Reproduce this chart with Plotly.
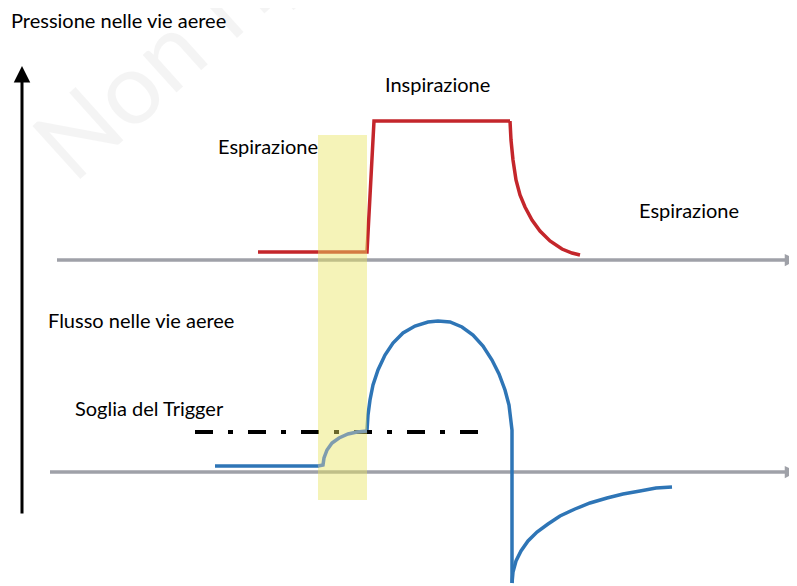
import plotly.graph_objects as go

# pixel-like schematic coordinates (x to the right, y downward)
press_x = [258, 367, 374, 510]
press_y = [252, 252, 121, 121]
decay_x = [510, 511, 513, 516, 520, 525, 532, 540, 550, 562, 572, 580]
decay_y = [121, 140, 160, 180, 195, 207, 220, 231, 241, 249, 253, 255]

flow_base_x = [215, 319]
flow_base_y = [466, 466]

trig_x = [318, 323, 324, 327, 332, 339, 348, 357, 367]
trig_y = [466, 465, 458, 450, 443, 438, 434, 432, 431]

insp_x = [367, 368, 370, 373, 378, 385, 393, 403, 415, 428, 438, 450, 462, 473, 483, 492, 499, 505, 509, 511, 512, 512]
insp_y = [431, 415, 400, 385, 370, 355, 343, 333, 326, 322, 321, 322, 327, 335, 346, 360, 374, 390, 405, 418, 430, 583]

esp_x = [512, 513, 516, 521, 528, 537, 548, 560, 575, 590, 607, 623, 640, 656, 672]
esp_y = [583, 572, 561, 551, 541, 532, 524, 516, 509, 503, 498, 494, 491, 488, 487]

soglia_x = [195, 478]
soglia_y = [432, 432]

# assi orizzontali (inizio, fine, quota)
assi = [(57, 790, 260), (50, 790, 472)]

# finestra del trigger
win_x = [318, 367]
win_y = [135, 500]

labels = [
    ("Pressione nelle vie aeree", 9, 20),
    ("Inspirazione", 383, 84),
    ("Espirazione", 216, 146),
    ("Espirazione", 637, 210),
    ("Flusso nelle vie aeree", 46, 320),
    ("Soglia del Trigger", 73, 408),
]

RED = "#c4262b"
BLUE = "#2e75b6"
GREY = "#9fa1a8"
FONT = "Lato"

fig = go.Figure()
for x0, x1, yy in assi:
  fig.add_trace(go.Scatter(x=[x0, x1], y=[yy, yy], mode="lines",
                           line=dict(color=GREY, width=3.5)))
  # punta della freccia
  fig.add_annotation(x=797, y=yy, ax=x1 - 4, ay=yy, xref="x", yref="y", axref="x", ayref="y",
                     showarrow=True, arrowhead=2, arrowsize=0.7, arrowwidth=3.5,
                     arrowcolor=GREY, text="")
fig.add_trace(go.Scatter(x=press_x, y=press_y, mode="lines", line=dict(color=RED, width=3.5)))
fig.add_trace(go.Scatter(x=decay_x, y=decay_y, mode="lines", line=dict(color=RED, width=3.5)))
fig.add_trace(go.Scatter(x=flow_base_x, y=flow_base_y, mode="lines", line=dict(color=BLUE, width=3.5)))
fig.add_trace(go.Scatter(x=insp_x, y=insp_y, mode="lines", line=dict(color=BLUE, width=3.5)))
fig.add_trace(go.Scatter(x=esp_x, y=esp_y, mode="lines", line=dict(color=BLUE, width=3.5)))
fig.add_trace(go.Scatter(x=soglia_x, y=soglia_y, mode="lines",
                         line=dict(color="black", width=4, dash="18px,15px,5px,15px")))
fig.add_trace(go.Scatter(x=[win_x[0], win_x[1], win_x[1], win_x[0], win_x[0]],
                         y=[win_y[0], win_y[0], win_y[1], win_y[1], win_y[0]],
                         mode="lines", fill="toself", line=dict(width=0),
                         fillcolor="rgba(233,228,97,0.45)"))
fig.add_trace(go.Scatter(x=trig_x, y=trig_y, mode="lines", line=dict(color="#7f9cae", width=3.5)))

# asse verticale
fig.add_annotation(x=22, y=66, ax=22, ay=515, xref="x", yref="y", axref="x", ayref="y",
                   showarrow=True, arrowhead=2, arrowsize=1.1, arrowwidth=3,
                   arrowcolor="black", text="")

for txt, x, y in labels:
  fig.add_annotation(x=x, y=y, text=txt, showarrow=False, xanchor="left", yanchor="middle",
                     font=dict(family=FONT, size=20, color="black"))

# filigrana (in gran parte fuori dal foglio, come nell'originale)
fig.add_annotation(x=0.408, y=1.705, xref="paper", yref="paper", text="Non riproducibile",
                   showarrow=False, textangle=-42,
                   font=dict(family=FONT, size=100, color="rgba(0,0,0,0.045)"))

# la pagina ha 8px di margine: la figura parte da (8, 8)
fig.update_layout(width=789, height=578, margin=dict(l=0, r=0, t=0, b=0),
                  plot_bgcolor="white", paper_bgcolor="white", showlegend=False,
                  hovermode=False,
                  xaxis=dict(range=[8, 797], visible=False, fixedrange=True),
                  yaxis=dict(range=[586, 8], visible=False, fixedrange=True))
fig.write_html("out.html")
